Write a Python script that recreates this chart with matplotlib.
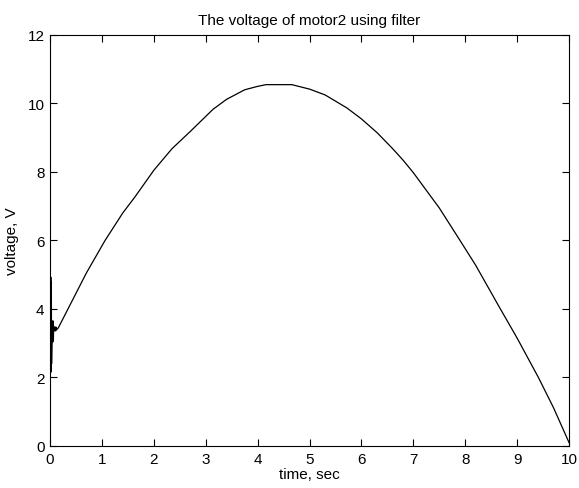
import matplotlib
matplotlib.use("Agg")
import matplotlib.pyplot as plt
import numpy as np

# start-up transient near t = 0 (fast oscillation)
t_start = [0.01, 0.015, 0.02, 0.025, 0.03, 0.045, 0.055, 0.06, 0.065, 0.07,
           0.09, 0.1, 0.11, 0.115, 0.13]
v_start = [2.2, 4.93, 2.16, 4.8, 2.4, 3.65, 3.04, 3.65, 3.1, 3.5,
           3.36, 3.47, 3.36, 3.47, 3.4]

# smooth part of the response
t_main = [0.16, 0.44, 0.7, 1.06, 1.4, 1.64, 2.0, 2.35, 2.7, 3.14, 3.4, 3.75, 4.0,
          4.16, 4.66, 5.0, 5.3, 5.72, 6.0, 6.3, 6.59, 6.8, 7.0, 7.5, 7.9, 8.2,
          8.67, 9.0, 9.41, 9.7, 10.0]
v_main = [3.45, 4.28, 5.05, 6.0, 6.8, 7.28, 8.05, 8.68, 9.18, 9.83, 10.12, 10.4, 10.5,
          10.55, 10.55, 10.42, 10.25, 9.87, 9.55, 9.15, 8.7, 8.35, 7.98, 6.95, 6.0, 5.28,
          4.02, 3.15, 2.0, 1.12, 0.1]

t = np.array(t_start + t_main)
v = np.array(v_start + v_main)

plt.rcParams['font.family'] = ['Arial', 'Liberation Sans', 'DejaVu Sans']
fig = plt.figure(figsize=(5.79, 4.89), dpi=100)
ax = fig.add_axes([0.0864, 0.0859, 0.8964, 0.8405])
ax.plot(t, v, color='black', linewidth=0.9)
ax.set_xlim(0, 10)
ax.set_ylim(0, 12)
ax.set_xticks(np.arange(0, 11, 1))
ax.set_yticks(np.arange(0, 13, 2))
ax.tick_params(direction='in', top=True, right=True, labelsize=11, length=5, pad=4)
ax.set_xlabel("time, sec", fontsize=11, labelpad=1)
ax.set_ylabel("voltage, V", fontsize=11, labelpad=6)
ax.set_title("The voltage of motor2 using filter", fontsize=11, pad=8)
fig.savefig("out.png", dpi=100)
